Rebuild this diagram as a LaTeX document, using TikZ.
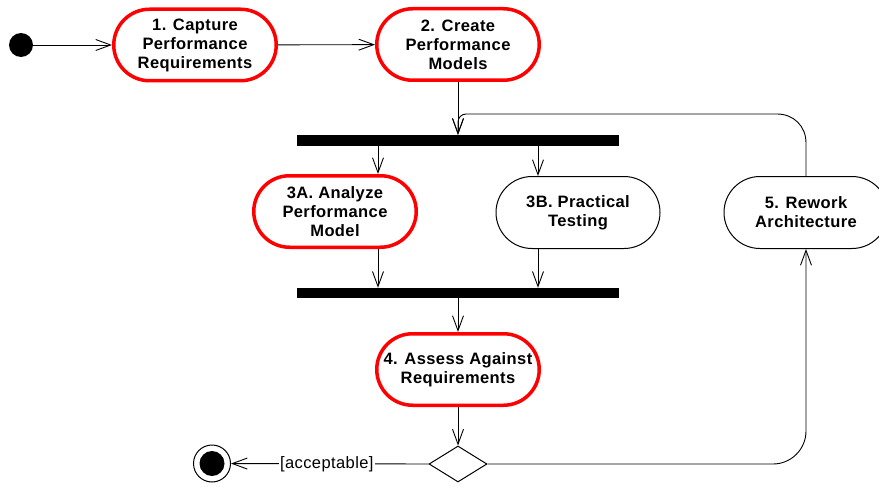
\documentclass[tikz,border=0pt]{standalone}
\usepackage{fontspec}
\setmainfont{Liberation Sans}[LetterSpace=2.5]
\usetikzlibrary{arrows.meta,shapes.geometric,shapes.misc}
\begin{document}
\begin{tikzpicture}[x=1pt,y=-1pt,
 act/.style={rounded rectangle, draw=black, line width=1pt, fill=white,
   minimum width=104pt, minimum height=72pt, inner xsep=-30pt, inner ysep=0pt, align=center,
   font=\fontsize{16.5}{19}\selectfont\bfseries},
 key/.style={act, draw=red, line width=3.5pt,
   minimum width=102.5pt, minimum height=71.5pt},
 bar/.style={fill=black, minimum width=322pt, minimum height=11pt, inner sep=0pt},
 arr/.style={-{Straight Barb[length=15pt,width=11pt,line width=0.9pt]}, line width=0.9pt},
 lbl/.style={fill=white, inner sep=1.5pt, font=\fontsize{16.5}{19}\selectfont}]
\useasboundingbox (0,0) rectangle (879,487);

\node[circle, fill=black, minimum size=24pt, inner sep=0pt] (start) at (21,45) {};
\node[key] (n1) at (195,45) {1. Capture\\Performance\\Requirements};
\node[key] (n2) at (458,44.5) {2. Create\\Performance\\Models};
\node[bar] (bar1) at (458,140.5) {};
\node[key] (n3a) at (335,211.5) {3A. Analyze\\Performance\\Model};
\node[act] (n3b) at (578,212.5) {3B. Practical\\Testing};
\node[act] (n5) at (806,212.5) {5. Rework\\Architecture};
\node[bar, minimum height=10pt] (bar2) at (458,293) {};
\node[key] (n4) at (458,369.5) {4. Assess Against\\Requirements};
\node[diamond, draw, line width=1pt, fill=white, minimum width=58pt, minimum height=36pt, inner sep=0pt, aspect=1.6] (dec) at (458,464) {};
\node[circle, draw, line width=1pt, fill=white, minimum size=37pt, inner sep=0pt] (fin) at (212,463.5) {};
\fill[black] (fin.center) circle (12.5pt);

\draw[arr] (start) -- (n1);
\draw[arr] (n1) -- (n2);
\draw[arr] (n2.south) -- (bar1.north);
\draw[arr] (bar1.south -| 378,0) -- (n3a.north -| 378,0);
\draw[arr] (bar1.south -| 538,0) -- (n3b.north -| 538,0);
\draw[arr] (n3a.south -| 378,0) -- (bar2.north -| 378,0);
\draw[arr] (n3b.south -| 538,0) -- (bar2.north -| 538,0);
\draw[arr] (bar2.south) -- (n4.north);
\draw[arr] (n4.south) -- (dec.north);
\draw[arr] (dec.west) -- node[lbl, pos=0.515] {[acceptable]} (fin);
\draw[arr] (dec.east) -- (773,464) .. controls (791.2,464) and (806,449.2) .. (806,431) -- (n5.south);
\draw[arr] (n5.north) -- (806,143) .. controls (806,126) and (793.5,114) .. (777,114)
  -- (466,114) .. controls (461.6,114) and (458,117.6) .. (458,122) -- (bar1.north);
\end{tikzpicture}
\end{document}
